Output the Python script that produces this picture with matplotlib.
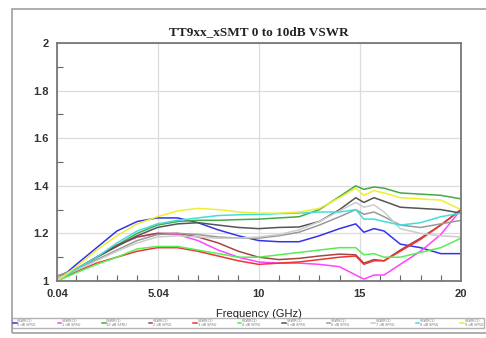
import matplotlib
matplotlib.use("Agg")
import matplotlib.pyplot as plt
from matplotlib.patches import Rectangle
from matplotlib.ticker import FixedLocator

freq = [0.04, 1, 2, 3, 4, 5, 6, 7, 8, 9, 10, 11, 12, 13, 14, 14.8, 15.2, 15.7, 16.2, 17, 18, 19, 20]

vswr_0db = [1.00, 1.07, 1.14, 1.21, 1.25, 1.265, 1.265, 1.245, 1.215, 1.19, 1.17, 1.165, 1.165, 1.19, 1.22, 1.24, 1.205, 1.22, 1.21, 1.155, 1.14, 1.115, 1.115]
vswr_1db = [1.01, 1.05, 1.10, 1.15, 1.185, 1.20, 1.195, 1.17, 1.13, 1.10, 1.08, 1.075, 1.075, 1.07, 1.06, 1.025, 1.008, 1.025, 1.025, 1.07, 1.125, 1.195, 1.30]
vswr_10db = [1.00, 1.05, 1.10, 1.15, 1.20, 1.235, 1.25, 1.255, 1.255, 1.258, 1.26, 1.265, 1.27, 1.30, 1.355, 1.40, 1.385, 1.395, 1.39, 1.37, 1.365, 1.36, 1.345]
vswr_2db = [1.00, 1.05, 1.10, 1.15, 1.185, 1.20, 1.20, 1.185, 1.16, 1.125, 1.10, 1.09, 1.095, 1.105, 1.113, 1.11, 1.075, 1.09, 1.085, 1.13, 1.18, 1.235, 1.30]
vswr_3db = [1.00, 1.04, 1.075, 1.10, 1.125, 1.14, 1.14, 1.125, 1.105, 1.085, 1.07, 1.075, 1.08, 1.09, 1.10, 1.105, 1.07, 1.085, 1.085, 1.125, 1.175, 1.235, 1.30]
vswr_4db = [1.00, 1.035, 1.07, 1.10, 1.135, 1.145, 1.145, 1.13, 1.115, 1.10, 1.10, 1.11, 1.12, 1.13, 1.14, 1.14, 1.11, 1.115, 1.10, 1.10, 1.12, 1.14, 1.18]
vswr_5db = [1.02, 1.05, 1.10, 1.145, 1.19, 1.225, 1.24, 1.245, 1.235, 1.225, 1.22, 1.225, 1.227, 1.25, 1.30, 1.35, 1.33, 1.35, 1.335, 1.31, 1.305, 1.30, 1.285]
vswr_6db = [1.02, 1.05, 1.09, 1.13, 1.17, 1.195, 1.20, 1.195, 1.185, 1.18, 1.18, 1.19, 1.205, 1.235, 1.27, 1.30, 1.28, 1.29, 1.27, 1.235, 1.225, 1.24, 1.255]
vswr_7db = [1.01, 1.045, 1.085, 1.125, 1.16, 1.185, 1.19, 1.185, 1.18, 1.18, 1.185, 1.195, 1.215, 1.25, 1.295, 1.33, 1.31, 1.32, 1.29, 1.22, 1.20, 1.19, 1.185]
vswr_8db = [1.00, 1.05, 1.10, 1.16, 1.21, 1.24, 1.255, 1.265, 1.275, 1.278, 1.28, 1.283, 1.285, 1.29, 1.29, 1.30, 1.26, 1.26, 1.25, 1.235, 1.245, 1.27, 1.285]
vswr_9db = [1.00, 1.06, 1.13, 1.19, 1.24, 1.27, 1.295, 1.305, 1.30, 1.29, 1.285, 1.285, 1.29, 1.305, 1.35, 1.39, 1.36, 1.38, 1.37, 1.35, 1.345, 1.34, 1.30]

series = [vswr_0db, vswr_1db, vswr_10db, vswr_2db, vswr_3db, vswr_4db,
          vswr_5db, vswr_6db, vswr_7db, vswr_8db, vswr_9db]
labels = ["VSWR(1)\n0 dB SFRU", "VSWR(1)\n1 dB SFRU", "VSWR(1)\n10 dB SFRU",
          "VSWR(1)\n2 dB SFRU", "VSWR(1)\n3 dB SFRU", "VSWR(1)\n4 dB SFRU",
          "VSWR(1)\n5 dB SFRU", "VSWR(1)\n6 dB SFRU", "VSWR(1)\n7 dB SFRU",
          "VSWR(1)\n8 dB SFRU", "VSWR(1)\n9 dB SFRU"]
colors = ["#3333ee", "#ff44ff", "#44aa44", "#aa4444", "#ee3333", "#55ee55",
          "#555555", "#999999", "#cccccc", "#44dddd", "#eeee33"]

xticks = [0.04, 5.04, 10, 15, 20]
xticklabels = ["0.04", "5.04", "10", "15", "20"]
yticks = [1, 1.2, 1.4, 1.6, 1.8, 2]
yticklabels = ["1", "1.2", "1.4", "1.6", "1.8", "2"]

W, H = 486, 338
fig = plt.figure(figsize=(W / 100, H / 100), dpi=100)
fig.patch.set_facecolor("white")

# outer frame
fig.patches.append(Rectangle((12 / W, 1 - 333 / H), 1.2, (333 - 9) / H,
                             transform=fig.transFigure, fill=False,
                             edgecolor="#a0a0a0", linewidth=1.2))

ax = fig.add_axes([57 / W, 1 - 281 / H, (461 - 57) / W, (281 - 43) / H])
for s, lab, c in zip(series, labels, colors):
    ax.plot(freq, s, color=c, linewidth=1.1, label=lab)

ax.set_xlim(0.04, 20)
ax.set_ylim(1, 2)
ax.set_xticks(xticks)
ax.set_xticklabels(xticklabels)
ax.set_yticks(yticks)
ax.set_yticklabels(yticklabels)
ax.xaxis.set_minor_locator(FixedLocator([1, 2, 3, 4, 6, 7, 8, 9, 11, 12, 13, 14, 16, 17, 18, 19]))
ax.yaxis.set_minor_locator(FixedLocator([1.1, 1.3, 1.5, 1.7, 1.9]))
ax.tick_params(axis="both", which="both", direction="in", color="#666666")
ax.tick_params(axis="both", which="major", length=0, labelsize=8, pad=6)
ax.tick_params(axis="both", which="minor", length=4, width=0.8)
for lbl in ax.get_xticklabels() + ax.get_yticklabels():
    lbl.set_fontfamily("Liberation Sans")
    lbl.set_fontweight("bold")
    lbl.set_color("#333333")
ax.grid(True, which="major", color="#dcdcdc", linewidth=0.9)
for sp in ax.spines.values():
    sp.set_color("#777777")
    sp.set_linewidth(1.3)

fig.text(259 / W, 1 - 32 / H, "TT9xx_xSMT 0 to 10dB VSWR", ha="center", va="center",
         fontsize=9.5, fontweight="bold", family="Liberation Serif", color="#222222")
fig.text(259 / W, 1 - 314 / H, "Frequency (GHz)", ha="center", va="center",
         fontsize=8, family="Liberation Sans", color="#222222")

leg = fig.legend(loc="upper left", bbox_to_anchor=(12 / W, 1 - 321 / H, (484 - 12) / W, 0.01),
                 ncol=11, fontsize=2.5, frameon=True, fancybox=False, handlelength=1.0,
                 handletextpad=0.2, columnspacing=0.4, borderaxespad=0, borderpad=0.3,
                 mode="expand", labelcolor="#777777")
leg.get_frame().set_edgecolor("#a0a0a0")
leg.get_frame().set_linewidth(1.0)

fig.savefig("out.png", dpi=100, facecolor="white")
